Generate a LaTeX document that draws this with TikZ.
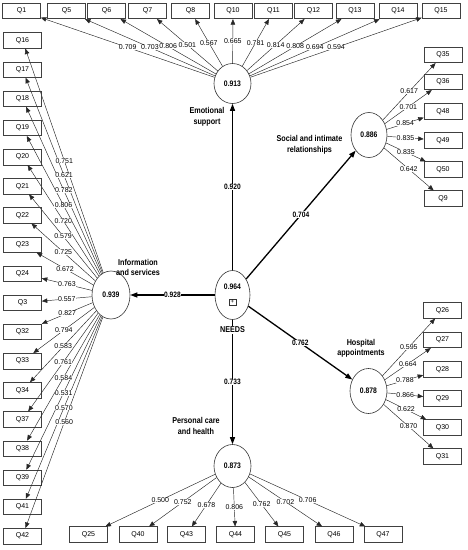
\documentclass[tikz,border=0pt]{standalone}
\usepackage{fontspec}
\setmainfont{Liberation Sans}
\newfontfamily\narrowfont{Liberation Sans}[FakeStretch=0.85]
\usetikzlibrary{shapes.geometric,arrows.meta,calc}
\begin{document}
\begin{tikzpicture}[x=1pt,y=-1pt,
  ind/.style={draw=black!75, line width=0.6pt, minimum width=38pt, minimum height=15.5pt, inner sep=0pt, font=\fontsize{7}{8}\selectfont},
  lv/.style={ellipse, draw=black!80, line width=0.6pt, minimum width=37pt, minimum height=45pt, inner sep=0pt, font=\narrowfont\bfseries\fontsize{8}{9}\selectfont},
  loadarrow/.style={-{Triangle[length=5.5pt,width=4.5pt]}, line width=0.45pt, draw=black!85},
  strarrow/.style={-{Triangle[length=7pt,width=5pt]}, line width=1.3pt, draw=black},
  lab/.style={fill=white, inner sep=0.3pt, font=\fontsize{7}{8}\selectfont},
  plab/.style={fill=white, inner sep=0.6pt, font=\narrowfont\bfseries\fontsize{7.8}{9}\selectfont},
  cat/.style={align=center, font=\narrowfont\bfseries\fontsize{8.5}{10.5}\selectfont},
]
\useasboundingbox (0,0) rectangle (467,550);

% latent variables
\node[lv, minimum height=40pt] (es) at (232.5,83.5) {0.913};
\node[lv, minimum width=36pt] (si) at (369,135) {0.886};
\node[lv, minimum width=38pt, minimum height=48pt] (is) at (111,295) {0.939};
\node[lv] (ha) at (368.5,391) {0.878};
\node[lv, minimum height=43pt] (pc) at (232.5,466) {0.873};
\node[lv, minimum width=35pt, minimum height=49pt] (needs) at (232.5,295) {};

% indicators and loadings lines
\foreach \n/\x in {1/21.5, 5/66.5, 6/106.5, 7/147.5, 8/190.5, 10/233, 11/273.5, 12/313.5, 13/355, 14/398, 15/441}{
  \node[ind] (q\n) at (\x,11) {Q\n};
  \draw[loadarrow] (es) -- (q\n);
}
\foreach \n/\i in {16/0, 17/1, 18/2, 19/3, 20/4, 21/5, 22/6, 23/7, 24/8, 3/9, 32/10, 33/11, 34/12, 37/13, 38/14, 39/15, 41/16, 42/17}{
  \node[ind] (q\n) at (22.5,{40.5+29.15*\i}) {Q\n};
  \draw[loadarrow] (is) -- (q\n);
}
\foreach \n/\y in {35/55, 36/82, 48/111.5, 49/140.5, 50/169.5, 9/198.5}{
  \node[ind] (q\n) at (443,\y) {Q\n};
  \draw[loadarrow] (si) -- (q\n);
}
\foreach \n/\y in {26/310.5, 27/340, 28/369.5, 29/398.5, 30/427.5, 31/456.5}{
  \node[ind] (q\n) at (442.5,\y) {Q\n};
  \draw[loadarrow] (ha) -- (q\n);
}
\foreach \n/\x in {25/88.5, 40/138, 43/186.5, 44/235.5, 45/284.5, 46/334, 47/383}{
  \node[ind] (q\n) at (\x,534.5) {Q\n};
  \draw[loadarrow] (pc) -- (q\n);
}

% loading labels
\foreach \n/\l in {1/0.709, 5/0.703, 6/0.806, 7/0.501, 8/0.567, 10/0.665, 11/0.781, 12/0.814, 13/0.808, 14/0.694, 15/0.594}{
  \path (es) -- (q\n) node[lab, midway] (l\n) {\l};
}
\foreach \n/\l in {16/0.751, 17/0.621, 18/0.782, 19/0.806, 20/0.720, 21/0.579, 22/0.725, 23/0.672, 24/0.763, 3/0.557, 32/0.827, 33/0.794, 34/0.583, 37/0.761, 38/0.584, 39/0.531, 41/0.570, 42/0.560}{
  \path (is) -- (q\n) node[lab, midway] (l\n) {\l};
}
\foreach \n/\l in {35/0.617, 36/0.701, 48/0.854, 49/0.835, 50/0.835, 9/0.642}{
  \path (si) -- (q\n) node[lab, midway] (l\n) {\l};
}
\foreach \n/\l in {26/0.595, 27/0.664, 28/0.788, 29/0.866, 30/0.622, 31/0.870}{
  \path (ha) -- (q\n) node[lab, midway] (l\n) {\l};
}
\foreach \n/\l in {25/0.500, 40/0.752, 43/0.678, 44/0.806, 45/0.762, 46/0.702, 47/0.706}{
  \path (pc) -- (q\n) node[lab, midway] (l\n) {\l};
}

% structural paths
\draw[strarrow] (needs) -- (es) node[plab, midway] (pes) {0.920};
\draw[strarrow] (needs) -- (si) node[plab, midway] (psi) {0.704};
\draw[strarrow] (needs) -- (is) node[plab, midway] (pis) {0.928};
\draw[strarrow] (needs) -- (ha) node[plab, midway] (pha) {0.762};
\draw[strarrow] (needs) -- (pc) node[plab, midway] (ppc) {0.733};

% NEEDS contents
\node[font=\narrowfont\bfseries\fontsize{8}{9}\selectfont] (needsval) at (232.5,287) {0.964};
\node[draw=black!80, line width=0.5pt, minimum size=6.5pt, inner sep=0pt, font=\fontsize{6}{6}\selectfont] (needsplus) at (232.5,302) {+};
\node[cat, fill=white, inner sep=1pt] (needsname) at (232.5,330) {NEEDS};

% construct names
\node[cat] (tes) at (207,117) {Emotional\\support};
\node[cat] (tsi) at (309.5,145) {Social and intimate\\relationships};
\node[cat] (tis) at (138,267.5) {Information\\and services};
\node[cat] (tha) at (361,348.5) {Hospital\\appointments};
\node[cat] (tpc) at (196,426) {Personal care\\and health};
\end{tikzpicture}
\end{document}
